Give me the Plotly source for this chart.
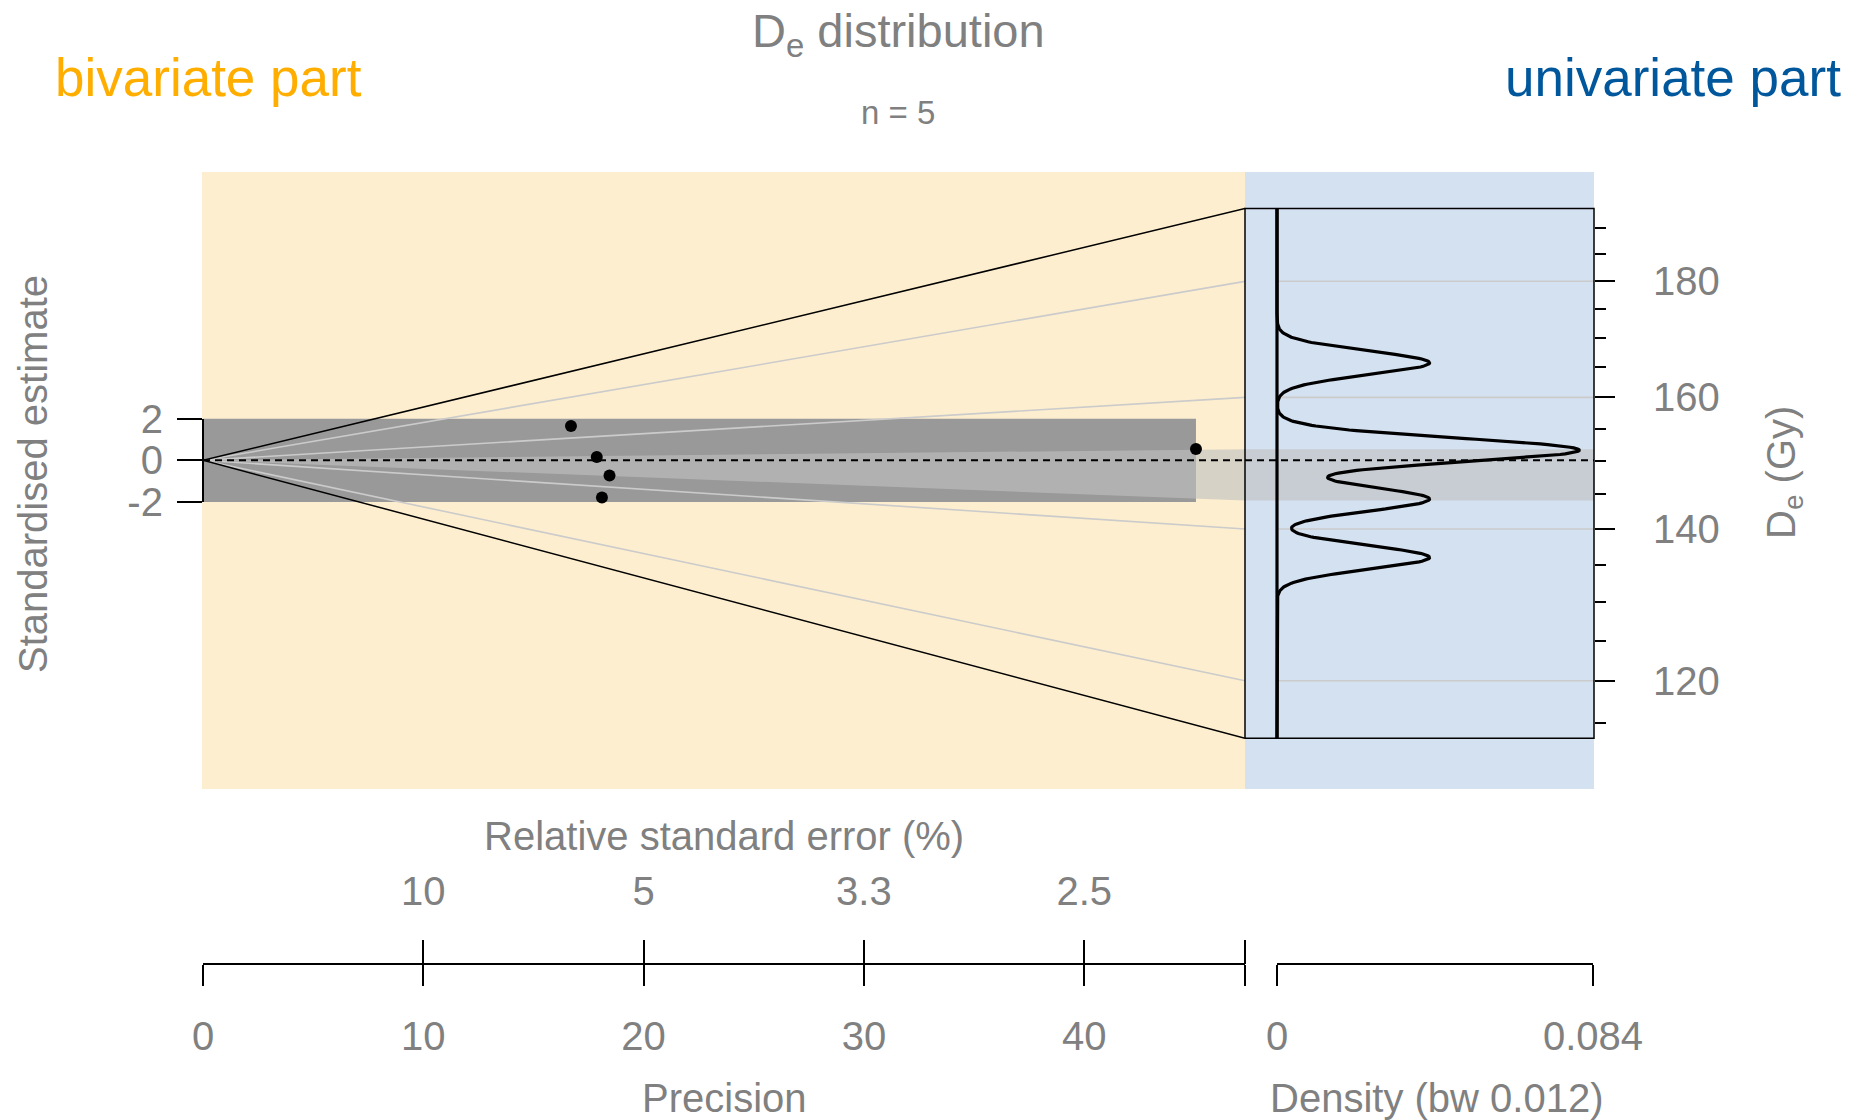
import numpy as np
import plotly.graph_objects as go

# ---------------- data ----------------
de_values = [165.7, 151.4, 144.3, 136.0, 151.9]      # equivalent dose, Gy
de_errors = [9.92, 8.47, 7.82, 7.51, 3.37]           # standard error, Gy
central_value = 150.1                                # Gy, z = 0
de_limits = [113.2, 193.8]                           # De range of the univariate box
bar_limits = [144.1, 151.8]                          # central value bar, Gy
z_ticks = [-2, 0, 2]
z_tick_labels = ["-2", "0", "2"]
precision_ticks = [0, 10, 20, 30, 40]
rse_ticks = [10, 5, 10 / 3, 2.5]                     # relative standard error, %
rse_tick_labels = ["10", "5", "3.3", "2.5"]
de_major_ticks = [120, 140, 160, 180]
de_minor_ticks = [115, 125, 130, 135, 145, 150, 155, 165, 170, 175, 185, 190]
bandwidth = 0.012
density_peak = 0.0803
density_axis_max = 0.084

# ---------------- derived values ----------------
de = np.array(de_values)
err = np.array(de_errors)
precision = de / err
z_values = np.log(de / central_value) * precision

# ---------------- layout geometry (pixels) ----------------
W, H = 1861, 1120
MAIN_X_PX = (203, 1245)
X_MAX = 47.3                      # precision at the right edge of the bivariate part
PANEL_Y_PX = (172, 789)
Z0_PX, Z_PX = 460.3, 20.83
Z_RANGE = [-(PANEL_Y_PX[1] - Z0_PX) / Z_PX, (Z0_PX - PANEL_Y_PX[0]) / Z_PX]
RIGHT_X_PX = (1245, 1594)
DENS0_PX, DENS1_PX = 1277, 1593
X2_DOM_PX = (1239, 1600)
AXIS_Y_PX = 964

GREY_TXT = "#808080"
FONT = "Liberation Sans, Arial, sans-serif"
ORANGE_BG = "#FDEECF"
BLUE_BG = "#D4E1F1"
BAR_COLOR = "rgba(192,192,192,0.62)"
LINE_GREY = "#CBCBCB"


def fx(px):
    return px / W


def fy(py):
    return 1 - py / H


def z_of(d):
    return np.log(np.asarray(d, dtype=float) / central_value) * X_MAX


def ypx_of_z(z):
    return Z0_PX - z * Z_PX


s_dens = (DENS1_PX - DENS0_PX) / density_axis_max
x2_range = [-(DENS0_PX - X2_DOM_PX[0]) / s_dens, (X2_DOM_PX[1] - DENS0_PX) / s_dens]
box_x = [-(DENS0_PX - RIGHT_X_PX[0]) / s_dens, (RIGHT_X_PX[1] - DENS0_PX) / s_dens]
y2_range = [np.log10(central_value * np.exp(Z_RANGE[0] / X_MAX)),
            np.log10(central_value * np.exp(Z_RANGE[1] / X_MAX))]

# kernel density of log De
grid = np.exp(np.linspace(np.log(de_limits[0]), np.log(de_limits[1]), 800))
kde = np.zeros_like(grid)
for d in de:
    kde += np.exp(-0.5 * ((np.log(grid) - np.log(d)) / bandwidth) ** 2)
kde /= (len(de) * bandwidth * np.sqrt(2 * np.pi))
dens = kde / kde.max() * density_peak

fig = go.Figure()


def add(tr):
    tr.update(showlegend=False, hoverinfo="skip")
    fig.add_trace(tr)


# ---- bivariate part ----
pmax = precision.max()
add(go.Scatter(x=[0, pmax, pmax, 0, 0], y=[-2, -2, 2, 2, -2], mode="lines",
               fill="toself", fillcolor="#999999", line=dict(width=0),
               xaxis="x", yaxis="y"))
zb = z_of(bar_limits)
add(go.Scatter(x=[0, X_MAX, X_MAX, 0], y=[0, zb[1], zb[0], 0], mode="lines",
               fill="toself", fillcolor=BAR_COLOR, line=dict(width=0),
               xaxis="x", yaxis="y"))
gx, gy = [], []
for t in de_major_ticks:
    gx += [0, X_MAX, None]
    gy += [0, float(z_of(t)), None]
add(go.Scatter(x=gx, y=gy, mode="lines", line=dict(color=LINE_GREY, width=1.6),
               xaxis="x", yaxis="y"))
zl = z_of(de_limits)
add(go.Scatter(x=[X_MAX, 0, X_MAX], y=[zl[1], 0, zl[0]], mode="lines",
               line=dict(color="black", width=1.5), xaxis="x", yaxis="y"))
add(go.Scatter(x=[0, X_MAX], y=[0, 0], mode="lines",
               line=dict(color="black", width=2, dash="7px,5px"),
               xaxis="x", yaxis="y"))
add(go.Scatter(x=precision, y=z_values, mode="markers",
               marker=dict(color="black", size=12, line=dict(width=0)),
               xaxis="x", yaxis="y"))

# ---- univariate part ----
add(go.Scatter(x=[box_x[0], box_x[1], box_x[1], box_x[0], box_x[0]],
               y=[bar_limits[0], bar_limits[0], bar_limits[1], bar_limits[1], bar_limits[0]],
               mode="lines", fill="toself", fillcolor=BAR_COLOR, line=dict(width=0),
               xaxis="x2", yaxis="y2"))
hx, hy = [], []
for t in de_major_ticks:
    hx += [0, box_x[1], None]
    hy += [t, t, None]
add(go.Scatter(x=hx, y=hy, mode="lines", line=dict(color=LINE_GREY, width=1.6),
               xaxis="x2", yaxis="y2"))
add(go.Scatter(x=dens, y=grid, mode="lines", line=dict(color="black", width=3.2),
               xaxis="x2", yaxis="y2"))
add(go.Scatter(x=[0, 0], y=de_limits, mode="lines", line=dict(color="black", width=3.2),
               xaxis="x2", yaxis="y2"))
add(go.Scatter(x=[box_x[0], box_x[1], box_x[1], box_x[0], box_x[0]],
               y=[de_limits[0], de_limits[0], de_limits[1], de_limits[1], de_limits[0]],
               mode="lines", line=dict(color="black", width=1.5),
               xaxis="x2", yaxis="y2"))
add(go.Scatter(x=[box_x[0], box_x[1]], y=[central_value, central_value], mode="lines",
               line=dict(color="black", width=2, dash="7px,5px"),
               xaxis="x2", yaxis="y2"))

# ---- invisible anchors for the tick-only axes ----
add(go.Scatter(x=[100 / r for r in rse_ticks], y=[0] * len(rse_ticks), mode="markers",
               marker=dict(opacity=0), xaxis="x3", yaxis="y"))
add(go.Scatter(x=[0, density_axis_max], y=[0, 0], mode="markers",
               marker=dict(opacity=0), xaxis="x4", yaxis="y"))
add(go.Scatter(x=[1, 1, 1], y=z_ticks, mode="markers",
               marker=dict(opacity=0), xaxis="x", yaxis="y3"))

tickfont = dict(family=FONT, size=40, color=GREY_TXT)
ydom = [fy(PANEL_Y_PX[1]), fy(PANEL_Y_PX[0])]
axis_pos = fy(AXIS_Y_PX)

fig.update_layout(
    width=W, height=H,
    margin=dict(l=0, r=0, t=0, b=0, pad=0),
    paper_bgcolor="white", plot_bgcolor="rgba(0,0,0,0)",
    showlegend=False,
    xaxis=dict(domain=[fx(MAIN_X_PX[0]), fx(MAIN_X_PX[1])], range=[0, X_MAX],
               anchor="free", position=axis_pos, showgrid=False, zeroline=False,
               showline=True, linecolor="black", linewidth=1.5, automargin=False,
               ticks="outside", ticklen=21, tickwidth=1.5, tickcolor="black",
               tickvals=precision_ticks,
               ticktext=[str(v) for v in precision_ticks],
               minor=dict(tickvals=[X_MAX], ticks="outside", ticklen=21,
                          tickwidth=1.5, tickcolor="black", showgrid=False),
               tickfont=tickfont, ticklabelstandoff=16),
    xaxis3=dict(domain=[fx(MAIN_X_PX[0]), fx(MAIN_X_PX[1])], range=[0, X_MAX],
                anchor="free", position=axis_pos, side="top", showgrid=False,
                zeroline=False, showline=False, automargin=False,
                ticks="outside", ticklen=24, tickwidth=1.5, tickcolor="black",
                tickvals=[100 / r for r in rse_ticks],
                ticktext=rse_tick_labels,
                minor=dict(tickvals=[X_MAX], ticks="outside", ticklen=24,
                           tickwidth=1.5, tickcolor="black", showgrid=False),
                tickfont=tickfont, ticklabelstandoff=19),
    xaxis2=dict(domain=[fx(X2_DOM_PX[0]), fx(X2_DOM_PX[1])], range=x2_range,
                anchor="y", visible=False, automargin=False),
    xaxis4=dict(domain=[fx(DENS0_PX), fx(DENS1_PX)], range=[0, density_axis_max],
                anchor="free", position=axis_pos, showgrid=False, zeroline=False,
                showline=True, linecolor="black", linewidth=1.5, automargin=False,
                ticks="outside", ticklen=21, tickwidth=1.5, tickcolor="black",
                tickvals=[0, density_axis_max], ticktext=["0", str(density_axis_max)],
                tickfont=tickfont, ticklabelstandoff=16),
    yaxis=dict(domain=ydom, range=Z_RANGE, anchor="x", visible=False, automargin=False),
    yaxis2=dict(domain=ydom, range=y2_range, type="log", anchor="free",
                position=fx(RIGHT_X_PX[1]), side="right", showgrid=False,
                zeroline=False, showline=False, automargin=False,
                ticks="outside", ticklen=20, tickwidth=1.5, tickcolor="black",
                tickvals=de_major_ticks, ticktext=[str(v) for v in de_major_ticks],
                minor=dict(tickvals=de_minor_ticks, ticks="outside", ticklen=11,
                           tickwidth=1.5, tickcolor="black", showgrid=False),
                tickfont=tickfont, ticklabelstandoff=30),
    yaxis3=dict(domain=[fy(ypx_of_z(-2)), fy(ypx_of_z(2))], range=[-2, 2],
                anchor="free", position=fx(202.7), side="left", showgrid=False,
                zeroline=False, showline=True, linecolor="black", linewidth=1.5,
                automargin=False,
                ticks="outside", ticklen=25, tickwidth=1.5, tickcolor="black",
                tickvals=z_ticks, ticktext=z_tick_labels,
                tickfont=tickfont, ticklabelstandoff=6),
)

# backgrounds
fig.add_shape(type="rect", xref="paper", yref="paper", layer="below",
              x0=fx(MAIN_X_PX[0] - 1), x1=fx(RIGHT_X_PX[0]), y0=fy(PANEL_Y_PX[1]), y1=fy(PANEL_Y_PX[0]),
              fillcolor=ORANGE_BG, line=dict(width=0))
fig.add_shape(type="rect", xref="paper", yref="paper", layer="below",
              x0=fx(RIGHT_X_PX[0]), x1=fx(RIGHT_X_PX[1]), y0=fy(PANEL_Y_PX[1]), y1=fy(PANEL_Y_PX[0]),
              fillcolor=BLUE_BG, line=dict(width=0))


def ann(text, xpx, ypx, size, color=GREY_TXT, xanchor="center", angle=0):
    fig.add_annotation(text=text, x=fx(xpx), y=fy(ypx), xref="paper", yref="paper",
                       showarrow=False, xanchor=xanchor, yanchor="middle",
                       textangle=angle, font=dict(family=FONT, size=size, color=color))


ann("bivariate part", 53, 78, 53, color="#FFAE00", xanchor="left")
ann("univariate part", 1843, 78, 53, color="#00579C", xanchor="right")
ann("D<sub>e</sub> distribution", 898, 34, 47)
ann(f"n = {len(de)}", 898, 113, 33)
ann("Standardised estimate", 33, 474, 40, angle=-90)
ann("D<sub>e</sub> (Gy)", 1784, 473, 40, angle=-90)
ann("Relative standard error (%)", 724, 836, 40)
ann("Precision", 724, 1098, 40)
ann(f"Density (bw {bandwidth})", 1436, 1098, 40)

fig.write_html("out.html")
